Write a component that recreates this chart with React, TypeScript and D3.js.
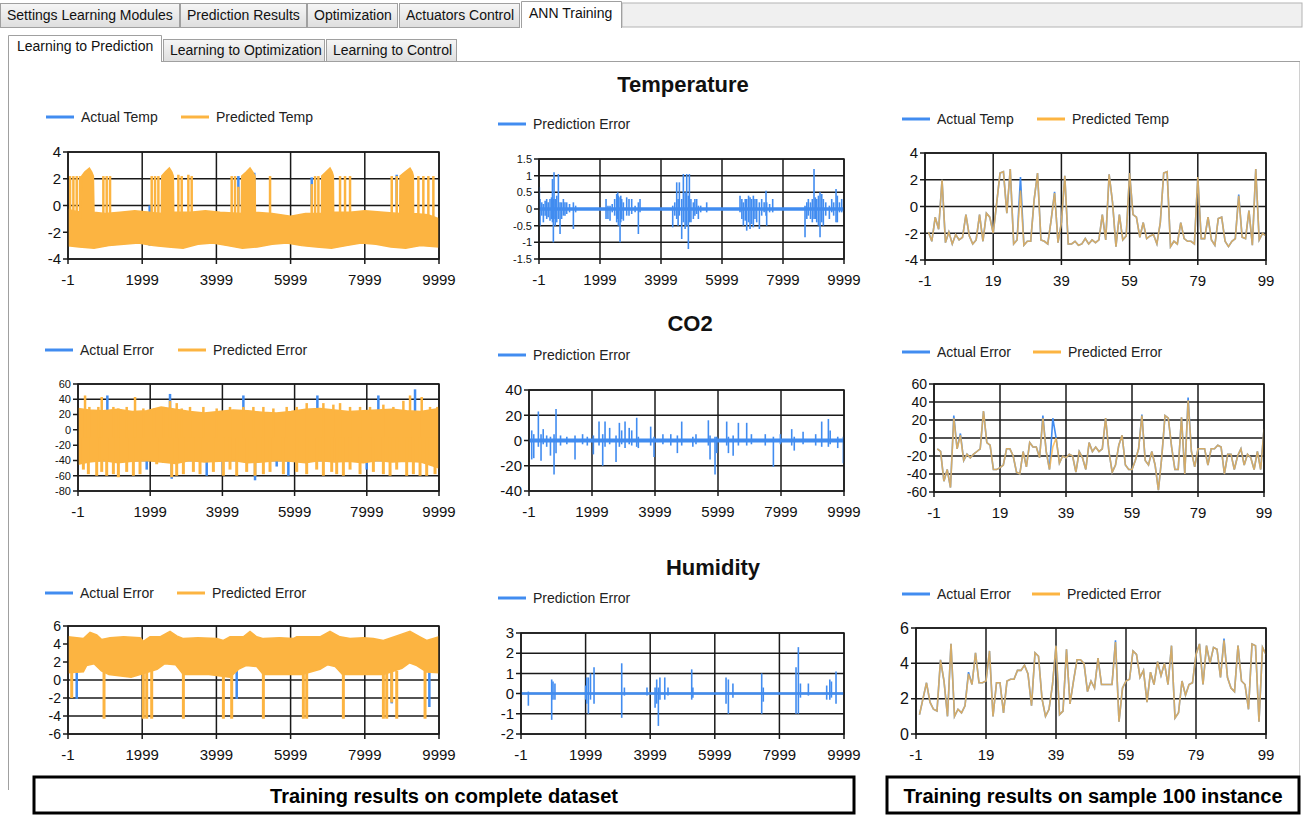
import * as d3 from "d3";
import React from "react";

const FONT = "'Liberation Sans', Arial, Helvetica, sans-serif";
const BLUE = "#418CF0";
const ORANGE = "#FCB441";

type Pt = [number, number];
type Seg = [number, number, number];

const fullTicks = [-1, 1999, 3999, 5999, 7999, 9999];
const sampleTicks = [-1, 19, 39, 59, 79, 99];

// ---------- Temperature, complete dataset (envelope of the dense trace) ----------
const tempUpper: Pt[] = [
  [-1, -0.3], [150, -0.4], [340, -0.5], [370, 2.2], [450, 2.5], [575, 2.8], [640, 2.5], [683, 2.2], [700, -0.5],
  [1000, -0.6], [1400, -0.5], [1800, -0.4], [2200, -0.5], [2515, -0.6], [2525, 2.2], [2620, 2.5], [2731, 2.8],
  [2800, 2.5], [2838, 2.2], [2850, -0.5], [3300, -0.5], [3700, -0.4], [4100, -0.5], [4670, -0.6], [4681, 2.2],
  [4800, 2.5], [4906, 2.8], [4980, 2.5], [5040, 2.2], [5050, -0.5], [5500, -0.6], [6000, -0.8], [6400, -0.6],
  [6830, -0.6], [6838, 2.2], [6950, 2.5], [7062, 2.8], [7120, 2.5], [7152, 2.2], [7160, -0.5], [7600, -0.5],
  [8000, -0.4], [8500, -0.5], [8940, -0.6], [8949, 2.2], [9080, 2.5], [9218, 2.8], [9280, 2.5], [9308, 2.2],
  [9315, -0.6], [9700, -0.7], [9999, -1.0],
];
const tempLower: Pt[] = [
  [-1, -3.0], [300, -3.1], [700, -3.2], [1100, -3.0], [1500, -2.9], [1900, -2.8], [2300, -3.0], [2700, -3.1],
  [3100, -3.2], [3500, -2.9], [3900, -2.8], [4300, -3.0], [4700, -3.2], [5100, -3.1], [5500, -2.9], [5900, -2.8],
  [6300, -3.0], [6700, -3.1], [7100, -3.2], [7500, -3.0], [7900, -2.8], [8300, -2.9], [8700, -3.1], [9100, -3.2],
  [9500, -3.0], [9999, -3.1],
];
const tempSpikes: Pt[] = [
  [54, 2.2], [144, 2.2], [234, 2.2], [323, 2.2], [952, 2.2], [1042, 2.2], [1132, 2.2],
  [2255, 2.2], [2345, 2.2], [2435, 2.2], [2974, 2.3], [3064, 2.2], [3243, 2.3], [3333, 2.2],
  [4411, 2.2], [4501, 2.2], [4591, 1.4], [5445, 2.2],
  [6568, 1.6], [6658, 2.2], [6748, 2.2], [7332, 2.2], [7466, 2.2], [7601, 2.2],
  [8725, 2.2], [8859, 2.2], [9443, 2.2], [9577, 2.2], [9712, 2.2], [9847, 2.2],
];
const tempActualSpikes: Seg[] = [
  [4591, 1.3, 2.2], [5020, 2.2, 2.45], [6568, 1.5, 2.1], [8859, 2.1, 2.3], [2200, -3.3, -3.0], [4750, -3.4, -3.1],
];

// ---------- Temperature prediction error ----------
const tempErr: Seg[] = [
  [11, -0.45, 0.65], [33, -0.5, 0.3], [90, -0.2, 0.2], [142, -0.4, 0.15], [200, -0.2, 0.25], [251, -0.3, 0.3],
  [300, -0.25, 0.2], [360, -0.35, 0.3], [410, -0.3, 0.35], [440, -0.4, 0.9], [470, -1.0, 0.3], [492, -0.3, 1.1],
  [530, -0.5, 0.3], [580, -0.4, 0.4], [634, -0.3, 1.05], [689, -0.75, 0.2], [740, -0.3, 0.2], [798, -0.2, 0.3],
  [850, -0.2, 0.2], [907, -0.15, 0.2], [1000, -0.1, 0.15], [1126, -0.6, 0.2], [1200, -0.1, 0.1],
  [2197, -0.3, 0.3], [2260, -0.3, 0.1], [2328, -0.35, 0.1], [2400, -0.1, 0.15], [2480, -0.2, 0.3],
  [2546, -0.4, 0.45], [2580, -0.3, 0.5], [2601, -0.5, 0.4], [2656, -1.0, 0.35], [2680, -0.4, 0.4],
  [2710, -0.3, 0.3], [2765, -0.35, 0.2], [2874, -0.2, 0.35], [2950, -0.2, 0.3], [3038, -0.15, 0.3],
  [3150, -0.1, 0.1], [3257, -0.75, 0.2], [3311, -0.1, 0.3],
  [4383, -0.55, 0.1], [4450, -0.2, 0.2], [4514, -0.3, 0.8], [4560, -0.5, 0.3], [4601, -0.2, 0.8],
  [4678, -0.9, 0.3], [4732, -0.4, 1.05], [4790, -0.6, 0.5], [4842, -0.5, 1.05], [4896, -1.2, 0.4],
  [4929, -0.4, 1.05], [4980, -0.4, 0.3], [5060, -0.3, 0.2], [5110, -0.2, 0.3], [5169, -0.15, 0.3],
  [5224, -0.3, 0.1], [5300, -0.1, 0.1], [5497, -0.1, 0.2],
  [6590, -0.1, 0.4], [6650, -0.3, 0.3], [6699, -0.5, 0.2], [6760, -0.35, 0.3], [6809, -0.65, 0.3],
  [6870, -0.4, 0.4], [6918, -0.6, 0.35], [6970, -0.45, 0.3], [7027, -0.55, 0.4], [7080, -0.3, 0.3],
  [7137, -0.4, 0.3], [7224, -0.6, 0.2], [7300, -0.2, 0.3], [7380, -0.1, 0.2], [7442, -0.2, 0.55],
  [7464, -0.5, 0.2], [7560, -0.1, 0.15], [7661, -0.1, 0.3],
  [8721, -0.85, 0.1], [8780, -0.3, 0.2], [8830, -0.2, 0.3], [8900, -0.3, 0.2], [8960, -0.4, 0.3],
  [9016, -0.3, 1.2], [9060, -0.3, 0.35], [9104, -0.4, 0.3], [9160, -0.5, 0.4], [9213, -0.85, 0.5],
  [9270, -0.4, 0.45], [9322, -0.5, 0.3], [9400, -0.2, 0.2], [9519, -0.3, 0.1], [9596, -0.1, 0.3],
  [9660, -0.2, 0.2], [9738, -0.4, 0.6], [9781, -0.4, 0.4], [9850, -0.1, 0.2], [9924, -0.1, 0.3],
];

// ---------- Temperature, sample of 100 ----------
const tempPredSample = [
  -1.9, -2.6, -0.8, -1.7, 2.0, -2.7, -1.9, -2.8, -2.1, -2.5,
  -2.3, -0.6, -2.2, -2.8, -2.5, -0.6, -2.6, -0.5, -0.8, -2.0,
  0.2, 2.5, 2.6, -0.5, 2.8, -2.8, -2.5, 1.2, -2.9, -2.6,
  -2.6, 0.5, 2.5, -2.5, -2.6, -2.8, -1.0, 1.0, -2.7, -1.2,
  2.3, -2.8, -2.8, -2.6, -2.9, -2.8, -2.4, -2.8, -2.5, -2.7,
  -2.5, -0.6, -2.5, 2.4, 0.3, -3.0, -0.6, -2.5, -2.2, 2.5,
  -0.6, -0.8, -2.3, -1.2, -2.4, -2.2, -2.1, -2.8, -1.2, 2.5,
  2.6, -3.0, -2.6, -2.8, -1.2, -2.4, -2.6, -2.6, -2.8, 2.2,
  -2.4, -2.4, -0.8, -2.5, -2.9, -0.9, -0.8, -2.6, -3.0, -2.6,
  -2.4, 0.8, -2.3, -2.4, -0.3, -2.9, 2.8, -2.5, -2.0, -2.2,
];
// points where the actual series differs from the predicted one
const tempActualDiff: Pt[] = [[27, 2.2], [37, 1.1], [91, 0.9]];

// ---------- CO2, complete dataset ----------
const co2Upper: Pt[] = [
  [-1, 28], [300, 26], [700, 25], [1100, 27], [1500, 24], [1900, 25], [2300, 30], [2700, 27], [3100, 24],
  [3500, 22], [3900, 24], [4300, 26], [4700, 25], [5100, 23], [5500, 22], [5900, 24], [6300, 27], [6700, 28],
  [7100, 26], [7500, 24], [7900, 25], [8300, 26], [8700, 27], [9100, 25], [9500, 24], [9999, 28],
];
const co2Lower: Pt[] = [
  [-1, -45], [300, -42], [700, -40], [1100, -43], [1500, -41], [1900, -40], [2300, -42], [2700, -44],
  [3100, -40], [3500, -42], [3900, -41], [4300, -40], [4700, -43], [5100, -42], [5500, -40], [5900, -41],
  [6300, -43], [6700, -40], [7100, -42], [7500, -41], [7900, -43], [8300, -40], [8700, -42], [9100, -41],
  [9500, -42], [9999, -50],
];
const co2UpSpikes: Pt[] = [
  [194, 45], [314, 30], [563, 30], [656, 43], [979, 30], [1117, 28], [1348, 30], [1579, 43], [1810, 28],
  [2105, 28], [2364, 30], [2548, 38], [2733, 35], [2872, 28], [3102, 30], [3472, 30], [3841, 28], [4210, 30],
  [4580, 30], [4857, 30], [5134, 30], [5411, 28], [5780, 30], [6057, 30], [6334, 35], [6796, 35], [7073, 33],
  [7258, 35], [7535, 30], [7812, 30], [8089, 30], [8458, 33], [8735, 30], [9012, 38], [9197, 45], [9520, 43],
  [9751, 30], [9954, 30],
];
const co2DownSpikes: Pt[] = [
  [148, -52], [286, -58], [517, -60], [656, -55], [794, -60], [979, -58], [1117, -62], [1348, -55], [1533, -60],
  [1717, -58], [2179, -45], [2595, -62], [2733, -60], [2918, -58], [3195, -55], [3379, -58], [3749, -55],
  [4026, -60], [4210, -52], [4395, -60], [4672, -55], [4903, -60], [5134, -58], [5318, -55], [5688, -58],
  [6057, -55], [6334, -58], [6611, -52], [6796, -60], [7027, -55], [7165, -58], [7350, -60], [7535, -52],
  [7812, -58], [8181, -55], [8458, -58], [8643, -60], [8827, -52], [9104, -60], [9289, -58], [9474, -60],
  [9658, -60], [9889, -58],
];
const co2ActualSpikes: Pt[] = [
  [812, 45], [2548, 47], [4580, 45], [6630, 45], [8319, 45], [9335, 53],
  [1902, -52], [2364, -43], [2595, -64], [3564, -60], [4903, -66], [5503, -48], [5826, -60], [7996, -52],
];

// ---------- CO2 prediction error ----------
const co2Err: Seg[] = [
  [85, -15, 8], [150, -14, 5], [296, -5, 23], [381, -16, 5], [450, -3, 9], [560, -5, 4], [680, -12, 3],
  [794, -27, 5], [857, -10, 25], [1000, -4, 4], [1200, -3, 3], [1460, -15, 4], [1700, -3, 5], [1850, -4, 3],
  [2042, -11, 4], [2222, -4, 15], [2339, -20, 5], [2413, -5, 15], [2560, -3, 10], [2762, -17, 4], [2868, -5, 14],
  [2940, -3, 8], [3048, -6, 15], [3180, -3, 10], [3260, -4, 8], [3418, -5, 18], [3470, -6, 3], [3862, -4, 11],
  [3968, -13, 3], [4250, -3, 5], [4500, -4, 5], [4709, -10, 4], [4847, -4, 15], [5200, -5, 3], [5300, -3, 5],
  [5693, -4, 16], [5746, -15, 4], [5905, -27, 3], [5960, -10, 3], [6275, -4, 15], [6330, -10, 3], [6480, -12, 4],
  [6646, -4, 14], [6910, -4, 14], [7060, -3, 5], [7500, -4, 5], [7757, -21, 3], [7980, -3, 5], [8339, -4, 9],
  [8420, -8, 3], [8700, -3, 7], [9100, -4, 5], [9291, -5, 15], [9503, -5, 17], [9560, -3, 8], [9800, -6, 3],
  [9979, -18, 3],
];

// ---------- CO2, sample of 100 ----------
const co2PredSample = [
  -12, -15, -48, -35, -55, 22, -12, 3, -25, -18,
  -22, -18, -15, -12, 30, -5, -8, -35, -35, -33,
  -30, -12, -12, -20, -38, -40, -15, -32, -5, -10,
  -10, -22, 22, -15, -35, -10, 0, -28, -20, -22,
  -18, -20, -38, -15, -22, -35, -5, -15, -10, -15,
  -12, 22, -15, -38, -30, -8, 3, -30, -35, -35,
  -25, -12, 25, -25, -30, -15, -30, -58, -22, 25,
  22, -10, -35, -35, 23, -40, 42, -15, -32, -12,
  -12, -12, -30, -12, -12, -8, -10, -40, -18, -18,
  -35, -20, -12, -30, -18, -22, -35, -15, -35, 10,
];
const co2ActualDiff: Pt[] = [[5, 25], [7, 5], [32, 25], [35, 22], [62, 26], [76, 45]];

// ---------- Humidity, complete dataset ----------
const humUpper: Pt[] = [
  [-1, 4.8], [413, 4.6], [593, 5.3], [773, 5.0], [907, 4.5], [1132, 4.7], [1500, 4.8], [1940, 4.7], [2030, 4.3],
  [2210, 4.8], [2479, 4.8], [2749, 5.4], [2929, 4.9], [3108, 4.6], [3500, 4.7], [4007, 4.6], [4186, 4.4],
  [4366, 4.8], [4725, 4.8], [4905, 5.4], [5085, 4.8], [5264, 4.6], [5700, 4.7], [6073, 4.6], [6163, 4.8],
  [6792, 4.8], [7061, 5.4], [7330, 4.8], [7600, 4.6], [7959, 4.7], [8228, 4.6], [8498, 4.4], [8857, 4.9],
  [9217, 5.4], [9486, 4.8], [9666, 4.4], [9999, 4.8],
];
const humLower: Pt[] = [
  [-1, 0.8], [413, 0.9], [500, 1.6], [700, 1.8], [900, 1.0], [1100, 0.6], [1700, 0.3], [1940, 0.6],
  [2400, 1.2], [2600, 1.8], [2900, 1.7], [3108, 0.6], [3800, 0.6], [4366, 0.3], [4600, 1.2], [4800, 1.6],
  [5085, 1.5], [5264, 0.6], [6300, 0.6], [6792, 1.2], [7000, 1.7], [7200, 1.5], [7400, 0.6], [8500, 0.6],
  [9000, 1.3], [9200, 1.9], [9400, 1.6], [9666, 0.9], [9999, 0.8],
];
const humDownSpikes: Pt[] = [
  [99, -2], [970, -4.3], [2030, -4.3], [2120, -4.3], [2255, -4.3], [3109, -4.3], [4187, -4.3], [4411, -4.3],
  [5265, -4.3], [6343, -4.3], [6433, -4.3], [7421, -4.3], [8500, -4.3], [8590, -4.3], [8725, -2.5],
  [8860, -4.3], [9623, -4.3],
];
const humActualSpikes: Pt[] = [[234, -2.1], [4546, -2.1], [8725, -2.6], [9739, -3.0]];

// ---------- Humidity prediction error ----------
const humErr: Seg[] = [
  [227, -0.6, 0.1], [949, -1.3, 0.7], [990, -0.3, 0.6], [1050, -0.3, 0.5], [2000, -0.3, 0.4], [2033, -0.5, 0.8],
  [2085, -1.0, 0.8], [2150, -0.3, 1.0], [2260, -0.5, 1.3], [3117, -1.2, 1.5], [3200, -0.1, 0.3], [3900, -0.1, 0.3],
  [4150, -0.7, 0.3], [4200, -0.5, 0.7], [4252, -1.6, 0.3], [4300, -0.3, 0.8], [4450, -0.3, 0.8], [4550, -0.1, 0.3],
  [5284, -0.3, 1.2], [5320, -0.2, 0.3], [6347, -0.5, 0.8], [6419, -1.0, 0.7], [6560, -0.2, 0.5], [7451, -1.0, 1.0],
  [7500, -0.4, 0.3], [8514, -1.0, 1.3], [8586, -1.0, 2.3], [8650, -0.2, 0.5], [8896, -0.1, 0.5], [9463, -0.3, 0.4],
  [9560, -0.3, 0.7], [9610, -0.2, 0.6], [9752, -0.5, 1.1],
];

// ---------- Humidity, sample of 100 ----------
const humPredSample = [
  1.1, 2.0, 2.9, 1.8, 1.4, 1.3, 4.2, 3.0, 1.0, 5.1,
  1.0, 1.4, 1.2, 1.6, 3.4, 2.8, 4.6, 2.9, 2.9, 3.0,
  4.7, 1.0, 2.9, 2.9, 1.2, 3.0, 3.1, 3.1, 3.6, 3.6,
  3.9, 3.4, 1.6, 4.6, 4.4, 2.0, 1.0, 1.4, 2.8, 5.0,
  1.1, 1.3, 4.8, 1.7, 3.0, 4.2, 4.2, 4.0, 2.4, 3.0,
  2.6, 4.3, 2.8, 2.8, 2.8, 2.8, 5.2, 0.7, 2.6, 3.0,
  3.1, 4.7, 4.5, 3.2, 3.6, 1.8, 3.5, 2.8, 4.1, 3.3,
  4.0, 2.8, 5.0, 0.9, 1.2, 3.0, 2.2, 2.8, 2.9, 4.5,
  5.1, 2.8, 5.0, 4.0, 4.9, 4.8, 3.2, 5.3, 3.2, 2.6,
  2.4, 5.0, 3.0, 2.8, 1.4, 5.1, 5.0, 0.7, 4.9, 4.5,
];
const humActualDiff: Pt[] = [[14, 3.5], [56, 5.3], [87, 5.4]];

type Scale = d3.ScaleLinear<number, number>;

interface LegendItem { label: string; color: string; x: number }
interface ChartProps {
  id: string;
  box: [number, number, number, number];
  xDomain: [number, number];
  xTicks: number[];
  yDomain: [number, number];
  yTicks: number[];
  yFont: number;
  legendY: number;
  legend: LegendItem[];
  draw: (x: Scale, y: Scale) => React.ReactNode;
}

function Chart(p: ChartProps) {
  const [l, t, r, b] = p.box;
  const x = d3.scaleLinear().domain(p.xDomain).range([l, r]);
  const y = d3.scaleLinear().domain(p.yDomain).range([b, t]);
  const grid = "#1a1a1a";
  return (
    <g>
      <defs>
        <clipPath id={p.id}><rect x={l} y={t} width={r - l} height={b - t} /></clipPath>
      </defs>
      {p.legend.map((it) => (
        <g key={it.label}>
          <line x1={it.x} x2={it.x + 28} y1={p.legendY} y2={p.legendY} stroke={it.color} strokeWidth={3} />
          <text x={it.x + 35} y={p.legendY + 5} fontSize={14} fill="#222">{it.label}</text>
        </g>
      ))}
      <rect x={l} y={t} width={r - l} height={b - t} fill="#fff" />
      {p.yTicks.map((v) => (
        <g key={"y" + v}>
          <line x1={l - 5} x2={r} y1={y(v)} y2={y(v)} stroke={grid} strokeWidth={1.5} />
          <text x={l - 7} y={y(v)} dy="0.35em" textAnchor="end" fontSize={p.yFont} fill="#111">{String(v)}</text>
        </g>
      ))}
      {p.xTicks.map((v) => (
        <g key={"x" + v}>
          <line x1={x(v)} x2={x(v)} y1={t} y2={b + 5} stroke={grid} strokeWidth={1.5} />
          <text x={x(v)} y={b + 26} textAnchor="middle" fontSize={15} fill="#111">{String(v)}</text>
        </g>
      ))}
      <g clipPath={`url(#${p.id})`}>{p.draw(x, y)}</g>
      <rect x={l} y={t} width={r - l} height={b - t} fill="none" stroke={grid} strokeWidth={1.5} />
    </g>
  );
}

const bandPath = (x: Scale, y: Scale, upper: Pt[], lower: Pt[]) =>
  d3.line<Pt>().x((d) => x(d[0])).y((d) => y(d[1]))([...upper, ...[...lower].reverse()]) + "Z";

function spikes(x: Scale, y: Scale, pts: Pt[], base: number, color: string, w: number) {
  return pts.map(([px, v], i) => (
    <line key={i} x1={x(px)} x2={x(px)} y1={y(base)} y2={y(v)} stroke={color} strokeWidth={w} />
  ));
}

function segs(x: Scale, y: Scale, data: Seg[], color: string) {
  return data.map(([px, lo, hi], i) => (
    <line key={i} x1={x(px)} x2={x(px)} y1={y(lo)} y2={y(hi)} stroke={color} strokeWidth={1.6} />
  ));
}

function fullDraw(upper: Pt[], lower: Pt[], up: Pt[], down: Pt[], base: number, actual: Pt[], actualBase: number) {
  return (x: Scale, y: Scale) => (
    <>
      {spikes(x, y, actual, actualBase, BLUE, 2.5)}
      <path d={bandPath(x, y, upper, lower)} fill={ORANGE} stroke={ORANGE} strokeWidth={1.5} />
      {spikes(x, y, up, base, ORANGE, 2.5)}
      {spikes(x, y, down, base, ORANGE, 3)}
    </>
  );
}

function errDraw(data: Seg[], noise: number) {
  return (x: Scale, y: Scale) => (
    <>
      <line x1={x(-1)} x2={x(9999)} y1={y(0)} y2={y(0)} stroke={BLUE} strokeWidth={Math.max(2.5, Math.abs(y(noise) - y(-noise)))} />
      {segs(x, y, data, BLUE)}
    </>
  );
}

function sampleDraw(pred: number[], diff: Pt[]) {
  const predPts: Pt[] = pred.map((v, i) => [i, v]);
  const actualPts: Pt[] = predPts.map(([i, v]) => {
    const d = diff.find((e) => e[0] === i);
    return [i, d ? d[1] : v];
  });
  return (x: Scale, y: Scale) => {
    const line = d3.line<Pt>().x((d) => x(d[0])).y((d) => y(d[1]));
    return (
      <>
        <path d={line(actualPts) ?? ""} fill="none" stroke={BLUE} strokeWidth={1.6} />
        <path d={line(predPts) ?? ""} fill="none" stroke={ORANGE} strokeOpacity={0.78} strokeWidth={1.6} />
      </>
    );
  };
}

function Tabs() {
  const top = [
    { label: "Settings Learning Modules", x0: 0, x1: 179 },
    { label: "Prediction Results", x0: 180, x1: 306 },
    { label: "Optimization", x0: 307, x1: 397 },
    { label: "Actuators Control", x0: 399, x1: 519 },
  ];
  const sub = [
    { label: "Learning to Optimization", x0: 163, x1: 324 },
    { label: "Learning to Control", x0: 326, x1: 456 },
  ];
  return (
    <g fontSize={14} fill="#111">
      <defs>
        <linearGradient id="tabg" x1="0" y1="0" x2="0" y2="1">
          <stop offset="0" stopColor="#f6f6f6" />
          <stop offset="1" stopColor="#dedede" />
        </linearGradient>
      </defs>
      <rect x={622} y={3} width={680} height={24} fill="#f0f0f0" stroke="#b4b4b4" />
      {top.map((tb) => (
        <g key={tb.label}>
          <rect x={tb.x0 + 0.5} y={3.5} width={tb.x1 - tb.x0} height={24} fill="url(#tabg)" stroke="#a0a0a0" />
          <text x={tb.x0 + 7} y={20}>{tb.label}</text>
        </g>
      ))}
      <path d="M521.5,28 V1.5 H621.5 V28" fill="#fff" stroke="#a0a0a0" />
      <text x={529} y={18}>ANN Training</text>
      <line x1={8} x2={1300} y1={61.5} y2={61.5} stroke="#a0a0a0" />
      <line x1={8.5} x2={8.5} y1={61} y2={790} stroke="#a0a0a0" />
      {sub.map((tb) => (
        <g key={tb.label}>
          <rect x={tb.x0 + 0.5} y={39.5} width={tb.x1 - tb.x0} height={22} fill="url(#tabg)" stroke="#a0a0a0" />
          <text x={tb.x0 + 7} y={55}>{tb.label}</text>
        </g>
      ))}
      <path d="M8.5,62 V35.5 H161.5 V62" fill="#fff" stroke="#a0a0a0" />
      <text x={17} y={51}>Learning to Prediction</text>
    </g>
  );
}

export default function App() {
  const fullX: [number, number] = [-1, 9999];
  const sampleX: [number, number] = [-1, 99];
  const tempLegend = (a: number, b: number): LegendItem[] => [
    { label: "Actual Temp", color: BLUE, x: a },
    { label: "Predicted Temp", color: ORANGE, x: b },
  ];
  const errLegend = (a: number, b: number): LegendItem[] => [
    { label: "Actual Error", color: BLUE, x: a },
    { label: "Predicted Error", color: ORANGE, x: b },
  ];
  const predErr: LegendItem[] = [{ label: "Prediction Error", color: BLUE, x: 498 }];

  return (
    <svg width={1305} height={815} style={{ position: "absolute", left: 0, top: 0, background: "#fff" }} fontFamily={FONT}>
      <rect width={1305} height={815} fill="#fff" />
      <Tabs />
      <line x1={1299.5} x2={1299.5} y1={62} y2={790} stroke="#d0d0d0" />

      <text x={683} y={92} textAnchor="middle" fontSize={22} fontWeight="bold" fill="#111">Temperature</text>
      <text x={690} y={331} textAnchor="middle" fontSize={22} fontWeight="bold" fill="#111">CO2</text>
      <text x={713} y={575} textAnchor="middle" fontSize={22} fontWeight="bold" fill="#111">Humidity</text>

      {/* Temperature */}
      <Chart id="c1" box={[68, 152, 439, 259]} xDomain={fullX} xTicks={fullTicks} yDomain={[-4, 4]}
        yTicks={[4, 2, 0, -2, -4]} yFont={15} legendY={117} legend={tempLegend(46, 181)}
        draw={fullDraw(tempUpper, tempLower, tempSpikes, [], -1, tempActualSpikes.map((s) => [s[0], s[2]] as Pt), 0)} />
      <Chart id="c2" box={[539, 159, 844, 259]} xDomain={fullX} xTicks={fullTicks} yDomain={[-1.5, 1.5]}
        yTicks={[1.5, 1, 0.5, 0, -0.5, -1, -1.5]} yFont={11} legendY={124} legend={predErr}
        draw={errDraw(tempErr, 0.05)} />
      <Chart id="c3" box={[925, 153, 1266, 260]} xDomain={sampleX} xTicks={sampleTicks} yDomain={[-4, 4]}
        yTicks={[4, 2, 0, -2, -4]} yFont={15} legendY={119} legend={tempLegend(902, 1037)}
        draw={sampleDraw(tempPredSample, tempActualDiff)} />

      {/* CO2 */}
      <Chart id="c4" box={[78, 384, 439, 491]} xDomain={fullX} xTicks={fullTicks} yDomain={[-80, 60]}
        yTicks={[60, 40, 20, 0, -20, -40, -60, -80]} yFont={11} legendY={350} legend={errLegend(45, 178)}
        draw={fullDraw(co2Upper, co2Lower, co2UpSpikes, co2DownSpikes, -10, co2ActualSpikes, -10)} />
      <Chart id="c5" box={[529, 390, 844, 491]} xDomain={fullX} xTicks={fullTicks} yDomain={[-40, 40]}
        yTicks={[40, 20, 0, -20, -40]} yFont={15} legendY={355} legend={predErr}
        draw={errDraw(co2Err, 1.5)} />
      <Chart id="c6" box={[934, 384, 1264, 492]} xDomain={sampleX} xTicks={sampleTicks} yDomain={[-60, 60]}
        yTicks={[60, 40, 20, 0, -20, -40, -60]} yFont={14} legendY={352} legend={errLegend(902, 1033)}
        draw={sampleDraw(co2PredSample, co2ActualDiff)} />

      {/* Humidity */}
      <Chart id="c7" box={[68, 626, 439, 734]} xDomain={fullX} xTicks={fullTicks} yDomain={[-6, 6]}
        yTicks={[6, 4, 2, 0, -2, -4, -6]} yFont={14} legendY={593} legend={errLegend(45, 177)}
        draw={fullDraw(humUpper, humLower, [], humDownSpikes, 1, humActualSpikes, 1)} />
      <Chart id="c8" box={[521, 633, 844, 734]} xDomain={fullX} xTicks={fullTicks} yDomain={[-2, 3]}
        yTicks={[3, 2, 1, 0, -1, -2]} yFont={15} legendY={598} legend={predErr}
        draw={errDraw(humErr, 0.06)} />
      <Chart id="c9" box={[916, 628, 1266, 734]} xDomain={sampleX} xTicks={sampleTicks} yDomain={[0, 6]}
        yTicks={[6, 4, 2, 0]} yFont={16} legendY={594} legend={errLegend(902, 1032)}
        draw={sampleDraw(humPredSample, humActualDiff)} />

      {/* captions */}
      <rect x={34} y={777} width={820} height={36} fill="#fff" stroke="#000" strokeWidth={3} />
      <text x={444} y={803} textAnchor="middle" fontSize={20} fontWeight="bold">Training results on complete dataset</text>
      <rect x={887} y={777} width={412} height={36} fill="#fff" stroke="#000" strokeWidth={3} />
      <text x={1093} y={803} textAnchor="middle" fontSize={20} fontWeight="bold">Training results on sample 100 instance</text>
    </svg>
  );
}
